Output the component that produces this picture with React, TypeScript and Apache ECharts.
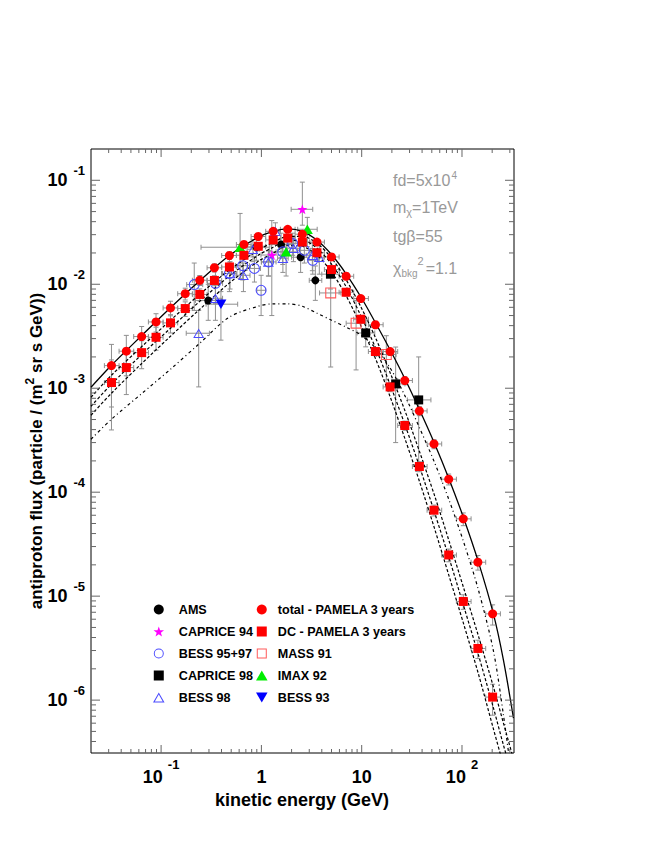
import React, { useEffect, useRef } from 'react';
import * as echarts from 'echarts';

const FONT = '"Liberation Sans", Arial, Helvetica, sans-serif';
const X_MIN = 0.02;
const X_MAX = 330;
const Y_MIN = 3.1e-7;
const Y_MAX = 0.2;

// ---- axis ticks ----
const xDecades = [0.01, 0.1, 1, 10, 100];
const yDecades = [1e-7, 1e-6, 1e-5, 1e-4, 1e-3, 1e-2, 1e-1];
const minorMultipliers = [2, 3, 4, 5, 6, 7, 8, 9];
const xMajorTicks = [0.1, 1, 10, 100];
const yMajorTicks = [1e-6, 1e-5, 1e-4, 1e-3, 1e-2, 1e-1];

// ---- PAMELA 3 years ----
const pamelaBinEdges = [0.0272, 0.0381, 0.0533, 0.0747, 0.1047, 0.1464, 0.2051, 0.2874, 0.4018, 0.5632, 0.7895, 1.104, 1.547, 2.168, 3.03, 4.247, 5.953, 8.323, 11.66, 16.35, 22.86, 32.03, 44.87, 62.76, 87.95, 123.2, 172.3, 241.5];
const pamelaEnergy = [0.032, 0.045, 0.064, 0.089, 0.124, 0.174, 0.243, 0.34, 0.48, 0.67, 0.93, 1.31, 1.83, 2.56, 3.58, 5.0, 7.0, 9.8, 13.7, 19.2, 26.9, 37.6, 52.6, 73.7, 103, 144, 202];
const totalFlux = [1.65e-3, 2.27e-3, 3.14e-3, 4.34e-3, 5.92e-3, 8.11e-3, 1.093e-2, 1.441e-2, 1.891e-2, 2.414e-2, 2.88e-2, 3.23e-2, 3.38e-2, 3.03e-2, 2.545e-2, 1.83e-2, 1.194e-2, 7.29e-3, 4.08e-3, 2.254e-3, 1.186e-3, 6.05e-4, 2.91e-4, 1.334e-4, 5.54e-5, 2.12e-5, 6.76e-6];
const totalRelErr = [0.6, 0.42, 0.25, 0.2, 0.16, 0.13, 0.11, 0.09, 0.08, 0.07, 0.06, 0.06, 0.06, 0.06, 0.06, 0.06, 0.07, 0.07, 0.08, 0.08, 0.09, 0.1, 0.1, 0.12, 0.14, 0.16, 0.22];
const dcFlux = [1.134e-3, 1.58e-3, 2.2e-3, 3.09e-3, 4.25e-3, 5.84e-3, 7.98e-3, 1.088e-2, 1.467e-2, 1.9e-2, 2.32e-2, 2.67e-2, 2.78e-2, 2.55e-2, 2.01e-2, 1.385e-2, 8.38e-3, 4.61e-3, 2.254e-3, 1.029e-3, 4.38e-4, 1.767e-4, 6.71e-5, 2.49e-5, 8.89e-6, 3.14e-6, 1.069e-6];
const dcRelErr = [0.65, 0.45, 0.3, 0.25, 0.2, 0.16, 0.13, 0.11, 0.09, 0.08, 0.07, 0.07, 0.07, 0.07, 0.07, 0.07, 0.08, 0.08, 0.09, 0.1, 0.1, 0.11, 0.12, 0.14, 0.16, 0.2, 0.33];

// ---- other experiments ----
const amsE = [0.295, 0.89, 1.57, 2.46, 3.45];
const amsF = [6.99e-3, 2.29e-2, 2.41e-2, 1.82e-2, 1.09e-2];
const amsELo = [0.22, 0.7, 1.25, 2.0, 3.0];
const amsEHi = [0.4, 1.1, 2.0, 3.0, 4.0];
const amsFLo = [4.5e-3, 1.7e-2, 1.8e-2, 1.3e-2, 7.0e-3];
const amsFHi = [1.0e-2, 3.0e-2, 3.1e-2, 2.4e-2, 1.5e-2];

const caprice94E = [1.27, 2.56];
const caprice94F = [1.91e-2, 5.26e-2];
const caprice94ELo = [0.99, 1.98];
const caprice94EHi = [1.63, 3.25];
const caprice94FLo = [5.0e-3, 3.7e-2];
const caprice94FHi = [4.1e-2, 9.6e-2];

const bess9597E = [0.214, 0.348, 0.48, 0.651, 0.852, 0.993, 1.18, 1.63, 2.05, 2.68, 3.25];
const bess9597F = [9.93e-3, 1.02e-2, 1.27e-2, 1.51e-2, 1.42e-2, 8.75e-3, 1.64e-2, 2.05e-2, 2.46e-2, 2.12e-2, 1.7e-2];
const bess9597ELo = [0.18, 0.29, 0.4, 0.55, 0.72, 0.9, 1.0, 1.4, 1.8, 2.3, 2.9];
const bess9597EHi = [0.26, 0.41, 0.56, 0.76, 0.98, 1.1, 1.4, 1.9, 2.35, 3.1, 3.7];
const bess9597FLo = [5.6e-3, 6.5e-3, 8.5e-3, 1.1e-2, 1.05e-2, 5.0e-3, 1.2e-2, 1.55e-2, 1.9e-2, 1.6e-2, 1.25e-2];
const bess9597FHi = [1.6e-2, 1.5e-2, 1.75e-2, 2.0e-2, 1.85e-2, 1.22e-2, 2.1e-2, 2.6e-2, 3.1e-2, 2.7e-2, 2.2e-2];

const caprice98E = [4.88, 10.96, 21.8, 37.0];
const caprice98F = [1.25e-2, 3.4e-3, 1.1e-3, 7.72e-4];
const caprice98ELo = [4.0, 9.0, 17.5, 28.5];
const caprice98EHi = [6.0, 13.5, 27.0, 49.0];
const caprice98FLo = [9.0e-3, 2.5e-3, 3.0e-4, 1.75e-4];
const caprice98FHi = [1.7e-2, 4.5e-3, 2.49e-3, 2.0e-3];

const bess98E = [0.237, 0.348, 0.487, 0.662, 0.823, 1.174, 1.379, 1.638, 2.085, 3.22, 3.78];
const bess98F = [3.38e-3, 7.33e-3, 1.27e-2, 1.22e-2, 2.17e-2, 1.64e-2, 3.23e-2, 1.78e-2, 2.22e-2, 1.9e-2, 1.82e-2];
const bess98ELo = [0.178, 0.29, 0.41, 0.56, 0.72, 1.0, 1.25, 1.45, 1.8, 2.8, 3.4];
const bess98EHi = [0.303, 0.41, 0.57, 0.77, 0.95, 1.3, 1.5, 1.85, 2.4, 3.5, 4.2];
const bess98FLo = [1.03e-3, 4.5e-3, 9.0e-3, 8.5e-3, 1.65e-2, 1.2e-2, 2.5e-2, 1.3e-2, 1.65e-2, 1.35e-2, 1.25e-2];
const bess98FHi = [5.6e-3, 1.0e-2, 1.65e-2, 1.6e-2, 2.7e-2, 2.1e-2, 3.9e-2, 2.3e-2, 2.8e-2, 2.5e-2, 2.4e-2];

const mass91E = [4.91, 8.79, 17.6];
const mass91F = [8.25e-3, 4.22e-3, 2.11e-3];
const mass91ELo = [3.8, 7.0, 14.0];
const mass91EHi = [6.2, 11.0, 22.0];
const mass91FLo = [1.6e-3, 1.5e-3, 1.2e-3];
const mass91FHi = [1.3e-2, 7.0e-3, 3.2e-3];

const imax92E = [0.613, 1.763, 2.87];
const imax92F = [2.27e-2, 2.05e-2, 3.38e-2];
const imax92ELo = [0.25, 1.2, 2.3];
const imax92EHi = [1.2, 2.3, 3.6];
const imax92FLo = [1.14e-2, 1.2e-2, 2.3e-2];
const imax92FHi = [4.8e-2, 3.3e-2, 4.4e-2];

const bess93E = [0.395];
const bess93F = [6.43e-3];
const bess93ELo = [0.281];
const bess93EHi = [0.58];
const bess93FLo = [2.9e-3];
const bess93FHi = [8.5e-3];

// ---- model curves ----
const curveEnergy = [0.02, 0.032, 0.063, 0.124, 0.243, 0.476, 0.93, 1.31, 1.83, 2.56, 3.59, 5.02, 7.04, 9.86, 13.8, 19.3, 27.1, 37.9, 53.1, 74.4, 104, 146, 206, 259, 326];
const totalModel = [1.022e-3, 1.664e-3, 3.162e-3, 5.943e-3, 1.081e-2, 1.879e-2, 2.83e-2, 3.233e-2, 3.417e-2, 3.233e-2, 2.649e-2, 1.921e-2, 1.248e-2, 7.499e-3, 4.217e-3, 2.319e-3, 1.221e-3, 6.143e-4, 2.959e-4, 1.334e-4, 5.623e-5, 2.123e-5, 6.71e-6, 2.424e-6, 6.71e-7];
const bkgModelA = [8.19e-4, 1.334e-3, 2.478e-3, 4.505e-3, 8.013e-3, 1.364e-2, 2.122e-2, 2.534e-2, 2.893e-2, 2.893e-2, 2.478e-2, 1.778e-2, 1.093e-2, 6.009e-3, 3.025e-3, 1.394e-3, 6.008e-4, 2.424e-4, 9.358e-5, 3.379e-5, 1.194e-5, 4.124e-6, 1.334e-6, 6.008e-7, 2.708e-7];
const bkgModelB = [6.71e-4, 1.093e-3, 2.077e-3, 3.775e-3, 6.863e-3, 1.194e-2, 1.901e-2, 2.269e-2, 2.649e-2, 2.649e-2, 2.219e-2, 1.557e-2, 9.358e-3, 4.924e-3, 2.424e-3, 1.069e-3, 4.406e-4, 1.739e-4, 6.424e-5, 2.319e-5, 8.013e-6, 2.708e-6, 8.377e-7, 3.694e-7, 1.701e-7];
const bkgModelC = [5.499e-4, 8.952e-4, 1.701e-3, 3.162e-3, 5.75e-3, 1.022e-2, 1.664e-2, 1.986e-2, 2.371e-2, 2.319e-2, 1.901e-2, 1.304e-2, 7.665e-3, 3.946e-3, 1.901e-3, 8.19e-4, 3.232e-4, 1.248e-4, 4.505e-5, 1.557e-5, 5.379e-6, 1.778e-6, 5.261e-7, 2.371e-7, 1.093e-7];
const signalModel = [3.232e-4, 5.033e-4, 8.756e-4, 1.523e-3, 2.708e-3, 4.816e-3, 6.143e-3, 6.49e-3, 6.49e-3, 6.143e-3, 5.261e-3, 4.505e-3, 3.859e-3, 3.232e-3, 2.424e-3, 1.557e-3, 8.377e-4, 4.124e-4, 1.943e-4, 8.377e-5, 3.305e-5, 1.142e-5, 2.96e-6, 7.177e-7, 1.363e-7];

// ---- legend names ----
const legendLeft = ['AMS', 'CAPRICE 94', 'BESS 95+97', 'CAPRICE 98', 'BESS 98'];
const legendRight = ['total - PAMELA 3 years', 'DC - PAMELA 3 years', 'MASS 91', 'IMAX 92', 'BESS 93'];

// ---- symbols ----
const STAR = 'path://M10,0 L12.35,6.76 L19.51,6.91 L13.8,11.24 L15.88,18.09 L10,14 L4.12,18.09 L6.2,11.24 L0.49,6.91 L7.65,6.76 Z';
const SQUARE = 'path://M0,0 L20,0 L20,20 L0,20 Z';
const TRI = 'path://M10,0 L20,17.3 L0,17.3 Z';
const INV_TRI = 'path://M0,0 L20,0 L10,17.3 Z';
const RING = 'path://M10,0 A10,10 0 1,1 10,20 A10,10 0 1,1 10,0 Z M10,1.9 A8.1,8.1 0 1,0 10,18.1 A8.1,8.1 0 1,0 10,1.9 Z';
const OPEN_TRI = 'path://M10,0 L20,17.3 L0,17.3 Z M10,3.6 L3.12,15.52 L16.88,15.52 Z';
const OPEN_SQ = 'path://M0,0 L20,0 L20,20 L0,20 Z M2,2 L2,18 L18,18 L18,2 Z';

const ERR_COLOR = '#8f8f8f';

function errRender(params: any, api: any) {
  const x = api.value(0), y = api.value(1);
  const xl = api.value(2), xh = api.value(3), yl = api.value(4), yh = api.value(5);
  const c = api.coord([x, y]);
  const l = api.coord([xl, y]);
  const r = api.coord([xh, y]);
  const t = api.coord([x, yh]);
  const b = api.coord([x, yl]);
  const cap = 2.5;
  const st = { stroke: ERR_COLOR, lineWidth: 1, fill: null };
  const mk = (x1: number, y1: number, x2: number, y2: number) => ({ type: 'line', shape: { x1, y1, x2, y2 }, style: st });
  return {
    type: 'group',
    children: [
      mk(l[0], c[1], r[0], c[1]),
      mk(l[0], c[1] - cap, l[0], c[1] + cap),
      mk(r[0], c[1] - cap, r[0], c[1] + cap),
      mk(c[0], t[1], c[0], b[1]),
      mk(c[0] - cap, t[1], c[0] + cap, t[1]),
      mk(c[0] - cap, b[1], c[0] + cap, b[1]),
    ],
  };
}

function tickRender(params: any, api: any) {
  const kind = api.value(2);
  const major = api.value(3) === 1;
  const st = { stroke: '#666', lineWidth: 1 };
  if (kind === 0) {
    const v = api.value(0);
    const pb = api.coord([v, Y_MIN]);
    const pt = api.coord([v, Y_MAX]);
    const len = major ? 8 : 4;
    return {
      type: 'group',
      children: [
        { type: 'line', shape: { x1: pb[0], y1: pb[1], x2: pb[0], y2: pb[1] - len }, style: st },
        { type: 'line', shape: { x1: pt[0], y1: pt[1], x2: pt[0], y2: pt[1] + len }, style: st },
      ],
    };
  }
  const v = api.value(1);
  const pl = api.coord([X_MIN, v]);
  const pr = api.coord([X_MAX, v]);
  const len = major ? 9 : 5;
  return {
    type: 'group',
    children: [
      { type: 'line', shape: { x1: pl[0], y1: pl[1], x2: pl[0] + len, y2: pl[1] }, style: st },
      { type: 'line', shape: { x1: pr[0], y1: pr[1], x2: pr[0] - len, y2: pr[1] }, style: st },
    ],
  };
}

function errSeries(name: string, E: number[], F: number[], ELo: number[], EHi: number[], FLo: number[], FHi: number[]) {
  return {
    type: 'custom',
    name: name + ' errors',
    renderItem: errRender,
    data: E.map((e, i) => [e, F[i], ELo[i], EHi[i], FLo[i], FHi[i]]),
    encode: { x: 0, y: 1 },
    clip: true,
    silent: true,
    z: 1,
  };
}

function scatter(name: string, E: number[], F: number[], symbol: string, size: any, color: string, z = 4) {
  return {
    type: 'scatter',
    name,
    data: E.map((e, i) => [e, F[i]]),
    symbol,
    symbolSize: size,
    itemStyle: { color, opacity: 1 },
    silent: true,
    z,
  };
}

function curve(name: string, F: number[], type: any, width: number) {
  return {
    type: 'line',
    name,
    data: curveEnergy.map((e, i) => [e, F[i]]),
    showSymbol: false,
    symbol: 'none',
    smooth: 0.3,
    silent: true,
    lineStyle: { color: '#000', width, type },
    z: 2,
  };
}

const fmtPow = (v: number, small: boolean) => {
  const lg = Math.log10(v);
  const e = Math.round(lg);
  if (Math.abs(lg - e) > 1e-6) return '';
  if (small && e === 0) return '{b|1}';
  if (small && e === 1) return '{b|10}';
  return '{b|10}{s|' + e + '}';
};

export default function App() {
  const ref = useRef<HTMLDivElement>(null);
  useEffect(() => {
    if (!ref.current) return;
    const chart = echarts.init(ref.current, null, { renderer: 'svg' });

    const xMinor: number[] = [];
    xDecades.forEach((d) => minorMultipliers.forEach((m) => {
      const v = d * m;
      if (v > X_MIN * 1.01 && v < X_MAX * 0.99) xMinor.push(v);
    }));
    const yMinor: number[] = [];
    yDecades.forEach((d) => minorMultipliers.forEach((m) => {
      const v = d * m;
      if (v > Y_MIN * 1.01 && v < Y_MAX * 0.99) yMinor.push(v);
    }));
    const tickData = [
      ...xMajorTicks.map((v) => [v, 1e-3, 0, 1]),
      ...xMinor.map((v) => [v, 1e-3, 0, 0]),
      ...yMajorTicks.map((v) => [1, v, 1, 1]),
      ...yMinor.map((v) => [1, v, 1, 0]),
    ];

    const legendText = { fontSize: 12.6, fontWeight: 'bold', color: '#000', fontFamily: FONT };

    const option: any = {
      animation: false,
      textStyle: { fontFamily: FONT },
      grid: { left: 91, right: 139, top: 149, bottom: 92, show: true, borderColor: '#000', borderWidth: 1, backgroundColor: 'transparent' },
      xAxis: {
        type: 'log', logBase: 10, min: X_MIN, max: X_MAX,
        axisLine: { show: false }, axisTick: { show: false }, splitLine: { show: false },
        minorTick: { show: false },
        axisLabel: {
          margin: 4,
          color: '#000',
          formatter: (v: number) => fmtPow(v, true),
          rich: {
            b: { fontSize: 18, fontWeight: 'bold', lineHeight: 40, fontFamily: FONT, color: '#000' },
            s: { fontSize: 13, fontWeight: 'bold', lineHeight: 14, padding: [0, 0, 26, 5], fontFamily: FONT, color: '#000' },
          },
        },
      },
      yAxis: {
        type: 'log', logBase: 10, min: Y_MIN, max: Y_MAX,
        axisLine: { show: false }, axisTick: { show: false }, splitLine: { show: false },
        minorTick: { show: false },
        axisLabel: {
          margin: 6,
          color: '#000',
          formatter: (v: number) => fmtPow(v, false),
          rich: {
            b: { fontSize: 18, fontWeight: 'bold', lineHeight: 34, fontFamily: FONT, color: '#000' },
            s: { fontSize: 13, fontWeight: 'bold', lineHeight: 14, padding: [0, 0, 20, 6], fontFamily: FONT, color: '#000' },
          },
        },
      },
      legend: [
        {
          data: legendLeft, orient: 'vertical', left: 148, top: 598, padding: 5,
          itemWidth: 30, itemHeight: 10, itemGap: 9, selectedMode: false,
          textStyle: legendText,
        },
        {
          data: legendRight, orient: 'vertical', left: 251, top: 598, padding: 5,
          itemWidth: 22, itemHeight: 10, itemGap: 9, selectedMode: false,
          textStyle: legendText,
        },
      ],
      graphic: [
        {
          type: 'text', x: 36, y: 451, rotation: Math.PI / 2, silent: true,
          style: {
            text: '{a|antiproton flux (particle / (m}{s|2}{a| sr s GeV))}',
            align: 'center', verticalAlign: 'middle',
            rich: {
              a: { fontSize: 17, fontWeight: 'bold', fontFamily: FONT, fill: '#000', lineHeight: 24 },
              s: { fontSize: 12, fontWeight: 'bold', fontFamily: FONT, fill: '#000', lineHeight: 12, padding: [0, 0, 12, 0] },
            },
          },
        },
        {
          type: 'text', x: 302, y: 800, silent: true,
          style: { text: 'kinetic energy (GeV)', align: 'center', verticalAlign: 'middle', font: 'bold 18px ' + FONT, fill: '#000' },
        },
        {
          type: 'text', x: 393, y: 180, silent: true,
          style: {
            text: '{t|fd=5x10}{p|4}', align: 'left', verticalAlign: 'middle',
            rich: {
              t: { fontSize: 16, fontFamily: FONT, fill: '#999', lineHeight: 28 },
              p: { fontSize: 10, fontFamily: FONT, fill: '#999', lineHeight: 10, padding: [0, 0, 10, 1] },
            },
          },
        },
        {
          type: 'text', x: 393, y: 207, silent: true,
          style: {
            text: '{t|m}{b|χ}{t|=1TeV}', align: 'left', verticalAlign: 'middle',
            rich: {
              t: { fontSize: 16, fontFamily: FONT, fill: '#999', lineHeight: 28 },
              b: { fontSize: 11, fontFamily: FONT, fill: '#999', lineHeight: 11, padding: [10, 0, 0, 0] },
            },
          },
        },
        {
          type: 'text', x: 393, y: 236, silent: true,
          style: { text: 'tgβ=55', align: 'left', verticalAlign: 'middle', font: '16px ' + FONT, fill: '#999' },
        },
        {
          type: 'text', x: 393, y: 268, silent: true,
          style: {
            text: '{t|χ}{b|bkg}{p|2}{t|=1.1}', align: 'left', verticalAlign: 'middle',
            rich: {
              t: { fontSize: 16, fontFamily: FONT, fill: '#999', lineHeight: 28 },
              b: { fontSize: 10, fontFamily: FONT, fill: '#999', lineHeight: 10, padding: [10, 0, 0, 0] },
              p: { fontSize: 11, fontFamily: FONT, fill: '#999', lineHeight: 11, padding: [0, 2, 14, 0] },
            },
          },
        },
      ],
      series: [
        {
          type: 'custom', name: 'ticks', renderItem: tickRender, data: tickData,
          encode: { x: 0, y: 1 }, clip: false, silent: true, z: 5,
        },
        curve('total model', totalModel, 'solid', 1.3),
        curve('background A', bkgModelA, [3, 2], 1.2),
        curve('background B', bkgModelB, [3, 2], 1.2),
        curve('background C', bkgModelC, [3, 2], 1.2),
        curve('signal', signalModel, [3, 3, 1, 3], 1.2),
        errSeries('AMS', amsE, amsF, amsELo, amsEHi, amsFLo, amsFHi),
        errSeries('CAPRICE 94', caprice94E, caprice94F, caprice94ELo, caprice94EHi, caprice94FLo, caprice94FHi),
        errSeries('BESS 95+97', bess9597E, bess9597F, bess9597ELo, bess9597EHi, bess9597FLo, bess9597FHi),
        errSeries('CAPRICE 98', caprice98E, caprice98F, caprice98ELo, caprice98EHi, caprice98FLo, caprice98FHi),
        errSeries('BESS 98', bess98E, bess98F, bess98ELo, bess98EHi, bess98FLo, bess98FHi),
        errSeries('MASS 91', mass91E, mass91F, mass91ELo, mass91EHi, mass91FLo, mass91FHi),
        errSeries('IMAX 92', imax92E, imax92F, imax92ELo, imax92EHi, imax92FLo, imax92FHi),
        errSeries('BESS 93', bess93E, bess93F, bess93ELo, bess93EHi, bess93FLo, bess93FHi),
        errSeries('total', pamelaEnergy, totalFlux,
          pamelaEnergy.map((_, i) => pamelaBinEdges[i]), pamelaEnergy.map((_, i) => pamelaBinEdges[i + 1]),
          totalFlux.map((f, i) => f * (1 - totalRelErr[i])), totalFlux.map((f, i) => f * (1 + totalRelErr[i]))),
        errSeries('DC', pamelaEnergy, dcFlux,
          pamelaEnergy.map((_, i) => pamelaBinEdges[i]), pamelaEnergy.map((_, i) => pamelaBinEdges[i + 1]),
          dcFlux.map((f, i) => f * (1 - dcRelErr[i])), dcFlux.map((f, i) => f * (1 + dcRelErr[i]))),
        scatter('AMS', amsE, amsF, 'circle', 8, '#000000'),
        scatter('CAPRICE 94', caprice94E, caprice94F, STAR, 10, '#ff00ff'),
        scatter('BESS 95+97', bess9597E, bess9597F, RING, 11, '#4a4aff'),
        scatter('CAPRICE 98', caprice98E, caprice98F, SQUARE, 9, '#000000'),
        scatter('BESS 98', bess98E, bess98F, OPEN_TRI, [11, 9.5], '#4a4aff'),
        scatter('MASS 91', mass91E, mass91F, OPEN_SQ, 11, '#ff5a5a'),
        scatter('IMAX 92', imax92E, imax92F, TRI, [11, 9.5], '#00ee00'),
        scatter('BESS 93', bess93E, bess93F, INV_TRI, [11, 9.5], '#0000ff'),
        scatter('total - PAMELA 3 years', pamelaEnergy, totalFlux, 'circle', 9, '#ff0000', 6),
        scatter('DC - PAMELA 3 years', pamelaEnergy, dcFlux, SQUARE, 9, '#ff0000', 6),
      ],
    };
    chart.setOption(option);
    return () => chart.dispose();
  }, []);
  return <div ref={ref} style={{ position: 'fixed', left: 0, top: 0, width: 653, height: 845, background: '#fff' }} />;
}
